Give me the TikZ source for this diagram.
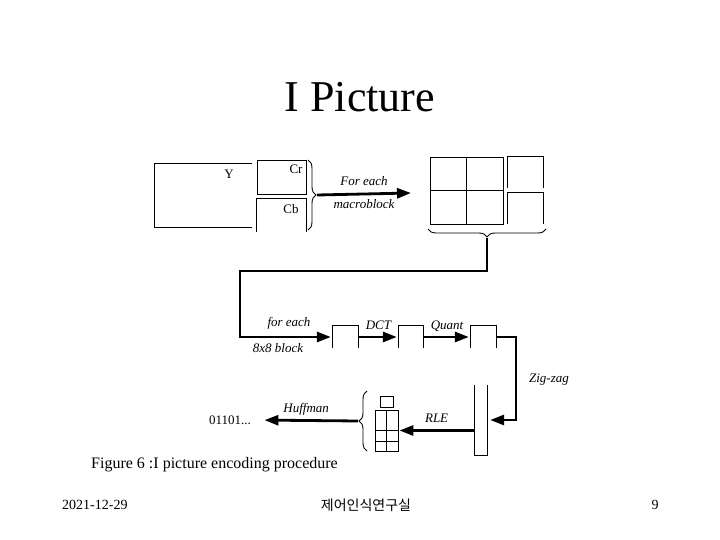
\documentclass[tikz,border=0pt]{standalone}
\usepackage{fontspec}
\setmainfont{Liberation Serif}
\newfontfamily\kofont{Noto Sans CJK KR}
\usetikzlibrary{arrows.meta,positioning,decorations.pathreplacing,calc}

\begin{document}
\begin{tikzpicture}[x=1pt,y=-1pt,
    box/.style={draw,line width=0.9pt,inner sep=0pt},
    hole/.style={inner sep=0pt},
    lbl/.style={font=\fontsize{13}{13}\selectfont\itshape,inner sep=1pt},
    up/.style={anchor=base,yshift=8pt},
    plane/.style={font=\fontsize{13}{13}\selectfont,inner sep=0pt},
    arr/.style={-{Triangle[length=14pt,width=10pt]},line width=2.8pt},
    thin/.style={line width=0.9pt},
    brc/.style={thin,decorate,decoration={brace,amplitude=8pt}}
]
\useasboundingbox (0,0) rectangle (720,540);
\node[font=\fontsize{44}{44}\selectfont] (title) at (360,97) {I Picture};

% colour planes
\node[hole,minimum width=97pt,minimum height=64pt] (Y) at (203.5,195.5) {};
\draw[thin] (Y.north east) -- (Y.north west) -- (Y.south west) -- (Y.south east);
\node[plane] (Ylbl) at (229,174) {Y};
\node[box,minimum width=49pt,minimum height=34pt] (Cr) at (281.5,177) {};
\node[plane] (Crlbl) at (296,169) {Cr};
\node[hole,minimum width=49pt,minimum height=33pt] (Cb) at (281.5,215.5) {};
\draw[thin] (Cb.south west) |- (Cb.north east) -- (Cb.south east);
\node[plane] (Cblbl) at (291,209) {Cb};
\draw[brc] (308,160) -- coordinate[xshift=9pt] (tipA) (308,230);

% macroblock
\coordinate (mbIn) at (411,193);
\draw[arr] (tipA) -- node[lbl,up] {For each} node[lbl,below=3pt] {macroblock} (mbIn);
\node[box,minimum width=73pt,minimum height=67pt] (mb) at (466.5,190.5) {};
\draw[thin] (mb.north) -- (mb.south) (mb.west) -- (mb.east);
\node[hole,minimum width=35pt,minimum height=31pt] (s1) at (525.5,172.5) {};
\node[hole,minimum width=35pt,minimum height=31pt] (s2) at (525.5,208.5) {};
\foreach \s in {s1,s2}
  \draw[thin] (\s.south west) |- (\s.north east) -- (\s.south east);
\draw[brc] (546,229) -- coordinate[yshift=-9pt] (tipB) (428,229);

% 8x8 blocks
\node[hole,minimum width=25pt,minimum height=22pt] (b1) at (345.5,337) {};
\node[hole,minimum width=24pt,minimum height=22pt] (b2) at (411,337) {};
\node[hole,minimum width=25pt,minimum height=22pt] (b3) at (483.5,337) {};
\foreach \b in {b1,b2,b3}
  \draw[thin] (\b.south west) |- (\b.north east) -- (\b.south east);
\coordinate (bend) at (240,271);
\draw[arr,shorten >=2pt] (tipB) |- (bend) |- (b1.west);
\node[lbl] (fe) at (289,323) {for each};
\node[lbl] (blk) at (278,348) {8x8 block};
\draw[arr,shorten >=2pt] (b1.east) -- node[lbl,up] {DCT} (b2.west);
\draw[arr,shorten >=2pt] (b2.east) -- node[lbl,up] {Quant} (b3.west);

% zig-zag and RLE
\node[hole,minimum width=12pt,minimum height=70pt] (bar) at (481,420) {};
\draw[thin] (bar.north west) |- (bar.south east) -- (bar.north east);
\coordinate (zz) at (516,420);
\draw[arr,shorten >=3pt] (b3.east) -| (zz) -- (bar.east);
\node[lbl] (zzlbl) at (549,380) {Zig-zag};
\node[box,minimum width=23pt,minimum height=41pt] (acg) at (386.5,430.5) {};
\draw[thin] (acg.north) -- (acg.south) (acg.west) -- (acg.east)
  ($(acg.west)+(0,11)$) -- ($(acg.east)+(0,11)$);
\node[box,minimum width=13pt,minimum height=11pt] (dc) at (386.5,401.5) {};
\draw[arr,shorten >=1pt] (bar.west |- acg.east) -- node[lbl,up] {RLE} (acg.east);
\draw[brc] (367,451) -- coordinate[xshift=-9pt] (tipC) (367,391);

% output bits
\node[font=\fontsize{13}{13}\selectfont] (out) at (230,420) {01101...};
\draw[arr,shorten >=10pt] (tipC) -- node[lbl,up] {Huffman} (out.east);

% caption and footer
\node[anchor=west,font=\fontsize{16}{16}\selectfont,inner sep=0pt] (cap) at (91,465) {Figure 6 :I picture encoding procedure};
\node[anchor=west,font=\fontsize{14}{14}\selectfont,inner sep=0pt] (date) at (62,505) {2021-12-29};
\node[font=\kofont\fontsize{14}{14}\selectfont,inner sep=0pt] (lab) at (366,505) {제어인식연구실};
\node[font=\fontsize{14}{14}\selectfont,inner sep=0pt] (page) at (655,505) {9};
\end{tikzpicture}
\end{document}
